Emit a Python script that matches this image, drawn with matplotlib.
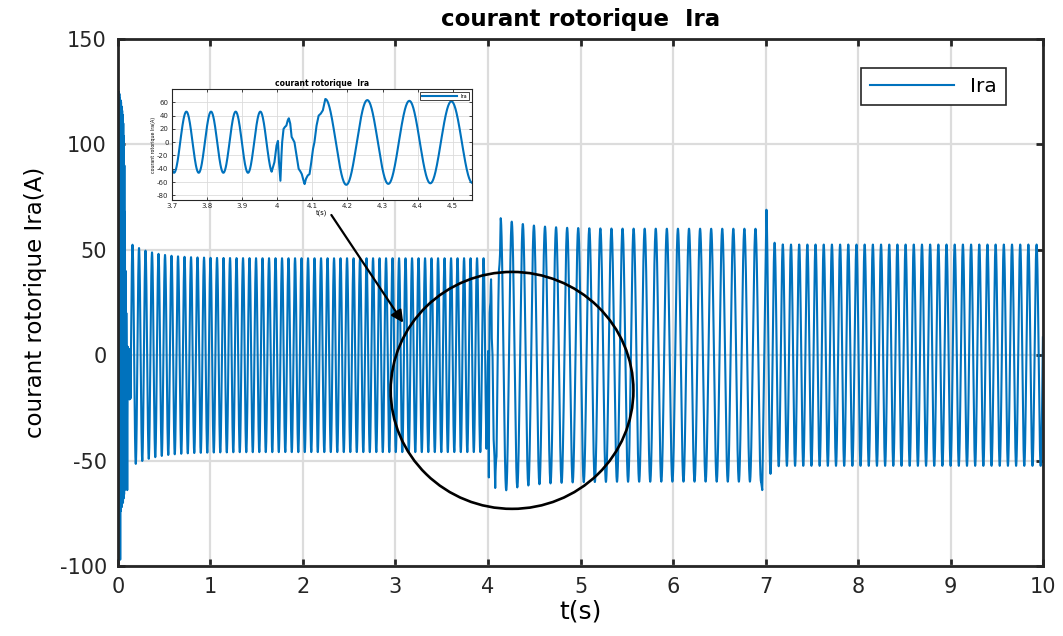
import matplotlib
matplotlib.use('Agg')
import matplotlib.pyplot as plt
from matplotlib.patches import Ellipse
import numpy as np

plt.rcParams['font.family'] = ['DejaVu Sans']
plt.rcParams['axes.unicode_minus'] = False

# ---------------------------------------------------------------------------
# Data
# ---------------------------------------------------------------------------
# start-up transient (t in s, current in A)
start_t = [0.000, 0.003, 0.006, 0.009, 0.012, 0.015, 0.018, 0.021, 0.024, 0.027,
           0.030, 0.033, 0.036, 0.039, 0.042, 0.045, 0.048, 0.051, 0.054, 0.057,
           0.060, 0.063, 0.066, 0.069, 0.072, 0.075, 0.078, 0.082, 0.086, 0.090,
           0.095, 0.100, 0.106, 0.112, 0.118, 0.124, 0.130]
start_i = [0, 125, -72, 125, -70, 124, -74, 122, -97, 121,
           -74, 120, -72, 118, -72, 116, -70, 114, -70, 110,
           -68, 104, -66, 90, -64, 68, -60, 40, -40, 20,
           -10, -64, 4, -20, 3, -21, 0]

# disturbance at t = 4 s (from the zoomed inset)
step4_t = [3.992, 3.998, 4.002, 4.005, 4.009, 4.012, 4.014, 4.018, 4.022, 4.026,
           4.030, 4.033, 4.037, 4.041, 4.045, 4.049, 4.055, 4.061, 4.066, 4.070,
           4.075, 4.078, 4.082, 4.087, 4.092, 4.097, 4.102, 4.106, 4.112, 4.118,
           4.124, 4.130]
step4_i = [-30, -5, 2, -30, -58, -20, 0, 20, 23, 25,
           33, 36, 28, 8, 4, 0, -20, -40, -44, -48,
           -58, -63, -55, -50, -48, -30, -10, 0, 25, 40,
           43, 48]

# disturbance at t = 7 s
step7_t = [6.965, 6.990]
step7_i = [-64, 10]

# steady oscillation segments
seg_start = [0.135, 4.137, 7.010]
seg_end = [3.985, 6.952, 10.0]
seg_freq = [14.23, 8.35, 11.3]       # Hz
seg_crest = [3.741, 4.137, 7.010]    # time of one crest
seg_amp = [46.0, 60.0, 52.5]         # settled amplitude
seg_amp0 = [53.0, 65.0, 69.0]        # amplitude at segment start
seg_tau = [0.25, 0.30, 0.03]         # settling time constant

# ---------------------------------------------------------------------------
# Assemble the current waveform
# ---------------------------------------------------------------------------
def segment(k):
    ts = np.arange(seg_start[k], seg_end[k], 0.001)
    env = seg_amp[k] + (seg_amp0[k] - seg_amp[k]) * np.exp(-(ts - seg_start[k]) / seg_tau[k])
    return ts, env * np.cos(2 * np.pi * seg_freq[k] * (ts - seg_crest[k]))

s0, s1, s2 = segment(0), segment(1), segment(2)
t = np.concatenate([start_t, s0[0], step4_t, s1[0], step7_t, s2[0]])
ira = np.concatenate([start_i, s0[1], step4_i, s1[1], step7_i, s2[1]])

blue = '#0072BD'
dark = '#262626'
gridc = '#DCDCDC'

fig = plt.figure(figsize=(10.63, 6.36), dpi=100)
ax = fig.add_axes([0.1110, 0.1101, 0.8702, 0.8286])

ax.plot(t, ira, color=blue, lw=1.5, label='Ira')
ax.set_xlim(0, 10)
ax.set_ylim(-100, 150)
ax.set_xticks(np.arange(0, 11, 1))
ax.set_yticks(np.arange(-100, 151, 50))
ax.grid(True, color=gridc, lw=1.6)
ax.set_axisbelow(True)
ax.tick_params(direction='in', length=5, width=2, colors=dark, labelsize=15,
               top=True, right=True, pad=8)
for sp in ax.spines.values():
    sp.set_linewidth(2.0)
    sp.set_color(dark)

ax.set_title('courant rotorique  Ira', fontsize=16.5, fontweight='bold', pad=9)
ax.set_xlabel('t(s)', fontsize=18, labelpad=2)
ax.set_ylabel('courant rotorique Ira(A)', fontsize=16.5, labelpad=9)

leg = ax.legend(loc='upper right', bbox_to_anchor=(0.971, 0.965), fontsize=14.5,
                fancybox=False, framealpha=1, edgecolor=dark, handlelength=4.2,
                borderpad=0.45)
leg.get_frame().set_linewidth(1.2)

# circle and arrow
ax.add_patch(Ellipse((4.26, -16.7), 2.624, 112.4, fill=False, ec='black', lw=1.9, zorder=6))
ax.annotate('', xy=(3.10, 14.3), xytext=(2.29, 67.6),
            arrowprops=dict(arrowstyle='-|>', color='black', lw=1.6, mutation_scale=18),
            zorder=7, annotation_clip=False)

# ---------------------------------------------------------------------------
# Zoomed inset around t = 4 s
# ---------------------------------------------------------------------------
ins = fig.add_axes([0.1618, 0.6855, 0.2822, 0.1745])
ins.plot(t, ira, color=blue, lw=1.5, label='Ira')
ins.set_xlim(3.7, 4.555)
ins.set_ylim(-87, 80)
ins.set_xticks(np.arange(3.7, 4.51, 0.1))
ins.set_xticklabels(['3.7', '3.8', '3.9', '4', '4.1', '4.2', '4.3', '4.4', '4.5'])
ins.set_yticks(np.arange(-80, 61, 20))
ins.grid(True, color=gridc, lw=0.6)
ins.set_axisbelow(True)
ins.tick_params(direction='in', length=2, width=0.6, colors=dark, labelsize=5,
                top=True, right=True, pad=2.5)
for sp in ins.spines.values():
    sp.set_linewidth(0.8)
    sp.set_color(dark)
ins.set_title('courant rotorique  Ira', fontsize=5.5, fontweight='bold', pad=2)
ins.set_xlabel('t(s)', fontsize=4.8, labelpad=0)
ins.set_ylabel('courant rotorique Ira(A)', fontsize=3.4, labelpad=1)
il = ins.legend(loc='upper right', fontsize=3.6, fancybox=False, framealpha=1,
                edgecolor=dark, handlelength=7, borderpad=0.3, borderaxespad=0.6)
il.get_frame().set_linewidth(0.6)

fig.savefig('out.png', dpi=100)
